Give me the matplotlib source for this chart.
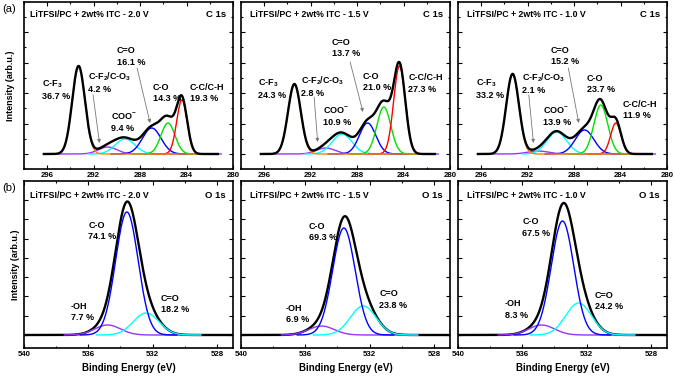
import numpy as np
import matplotlib
matplotlib.use("Agg")
from matplotlib import pyplot as plt
from matplotlib.ticker import MultipleLocator

plt.rcParams["font.family"] = "Liberation Sans"
plt.rcParams["font.weight"] = "bold"
plt.rcParams["axes.labelweight"] = "bold"
plt.rcParams["mathtext.fontset"] = "custom"
plt.rcParams["mathtext.rm"] = "Liberation Sans:bold"
plt.rcParams["mathtext.it"] = "Liberation Sans:bold"
plt.rcParams["mathtext.bf"] = "Liberation Sans:bold"
plt.rcParams["mathtext.default"] = "rm"

voltages = ["2.0", "1.5", "1.0"]

# C 1s components, order: C-F3, C-F2/C-O3, COO-, C=O, C-O, C-C/C-H
c1s_names = ["C-F$_3$", "C-F$_2$/C-O$_3$", "COO$^{-}$", "C=O", "C-O", "C-C/C-H"]

c1s_2v0_center = [293.3, 290.8, 289.3, 287.0, 285.6, 284.4]
c1s_2v0_height = [88, 7, 15, 26, 31, 54]
c1s_2v0_sigma = [0.55, 0.8, 0.85, 0.8, 0.6, 0.45]
c1s_2v0_pct = ["36.7", "4.2", "9.4", "16.1", "14.3", "19.3"]

c1s_1v5_center = [293.4, 290.7, 289.3, 287.1, 285.7, 284.35]
c1s_1v5_height = [70, 6, 20, 31, 47, 88]
c1s_1v5_sigma = [0.55, 0.8, 0.85, 0.7, 0.6, 0.5]
c1s_1v5_pct = ["24.3", "2.8", "10.9", "13.7", "21.0", "27.3"]

c1s_1v0_center = [293.3, 291.1, 289.5, 287.1, 285.7, 284.4]
c1s_1v0_height = [80, 3, 22, 24, 49, 31]
c1s_1v0_sigma = [0.55, 0.9, 0.85, 0.8, 0.6, 0.45]
c1s_1v0_pct = ["33.2", "2.1", "13.9", "15.2", "23.7", "11.9"]

# O 1s components, order: C-O, C=O, -OH
o1s_names = ["C-O", "C=O", "-OH"]

o1s_2v0_center = [533.6, 532.4, 534.8]
o1s_2v0_height = [123, 22, 10]
o1s_2v0_sigma = [0.7, 0.8, 0.8]
o1s_2v0_pct = ["74.1", "18.2", "7.7"]

o1s_1v5_center = [533.6, 532.4, 535.0]
o1s_1v5_height = [107, 29, 9]
o1s_1v5_sigma = [0.7, 0.8, 0.8]
o1s_1v5_pct = ["69.3", "23.8", "6.9"]

o1s_1v0_center = [533.5, 532.5, 534.8]
o1s_1v0_height = [114, 32, 10]
o1s_1v0_sigma = [0.7, 0.8, 0.8]
o1s_1v0_pct = ["67.5", "24.2", "8.3"]

c1s_sets = [
    (c1s_2v0_center, c1s_2v0_height, c1s_2v0_sigma, c1s_2v0_pct),
    (c1s_1v5_center, c1s_1v5_height, c1s_1v5_sigma, c1s_1v5_pct),
    (c1s_1v0_center, c1s_1v0_height, c1s_1v0_sigma, c1s_1v0_pct),
]
o1s_sets = [
    (o1s_2v0_center, o1s_2v0_height, o1s_2v0_sigma, o1s_2v0_pct),
    (o1s_1v5_center, o1s_1v5_height, o1s_1v5_sigma, o1s_1v5_pct),
    (o1s_1v0_center, o1s_1v0_height, o1s_1v0_sigma, o1s_1v0_pct),
]

# styles
c1s_colors = ["#ff8000", "#9933ff", "#00ffff", "#0000ff", "#00e000", "#ff0000"]
c1s_ranges = [(294.4, 282.6), (295.3, 281.0), (292.5, 286.0),
              (290.5, 283.5), (288.5, 282.5), (287.0, 282.0)]
c1s_order = [1, 2, 3, 4, 5, 0]
o1s_colors = ["#0000ff", "#00ffff", "#9933ff"]
o1s_ranges = [(536.5, 530.5), (535.5, 529.0), (537.5, 529.0)]

# label positions (BE, intensity) for each panel, same order as names
c1s_label_pos = [
    [(296.45, 64.5), (292.5, 71.5), (290.5, 32), (290.0, 97.5), (286.9, 61), (283.7, 61)],
    [(296.5, 65), (292.8, 68), (290.9, 38), (290.2, 106), (287.5, 72), (283.6, 70.5)],
    [(296.45, 65), (292.5, 71), (290.7, 38), (290.0, 98), (286.9, 70), (283.8, 44)],
]
c1s_arrows = [
    [((292.05, 59), (291.5, 11)), ((288.26, 86), (287.14, 31))],
    [((291.7, 57), (291.4, 12)), ((288.6, 92), (287.5, 42))],
    [((291.9, 59), (291.5, 11)), ((288.5, 86), (287.6, 31))],
]
o1s_label_pos = [
    [(536.0, 104), (531.5, 31), (537.1, 23)],
    [(535.8, 103), (531.4, 35.5), (537.2, 21)],
    [(536.0, 107.5), (531.5, 34), (537.1, 25.5)],
]


def gauss(x, c, h, s):
    return h * np.exp(-(x - c) ** 2 / (2 * s ** 2))


W, H = 674, 378
fig = plt.figure(figsize=(W / 100, H / 100), dpi=100)

col_left = [24, 241, 458]
col_w = 209
row_top = [2, 181]
row_h = 167


def make_ax(col, row):
    l = col_left[col]
    t = row_top[row]
    return fig.add_axes([l / W, 1 - (t + row_h) / H, col_w / W, row_h / H])


def style_ax(ax, xlim, ylim, ymaj, ymin):
    ax.set_xlim(*xlim)
    ax.set_ylim(*ylim)
    ax.xaxis.set_major_locator(MultipleLocator(4))
    ax.xaxis.set_minor_locator(MultipleLocator(2))
    ax.yaxis.set_major_locator(MultipleLocator(ymaj))
    if ymin:
        ax.yaxis.set_minor_locator(MultipleLocator(ymin))
    ax.tick_params(which="both", direction="in", top=True, right=True, width=0.8)
    ax.tick_params(which="major", length=3)
    ax.tick_params(which="minor", length=1.6)
    ax.tick_params(axis="x", labelsize=5.7, pad=2)
    ax.tick_params(axis="y", labelleft=False)
    for sp in ax.spines.values():
        sp.set_linewidth(1.2)


# top row: C 1s
for i, (cen, hei, sig, pct) in enumerate(c1s_sets):
    ax = make_ax(i, 0)
    x = np.linspace(298, 280, 1200)
    for k in c1s_order:
        lo, hi = c1s_ranges[k]
        xs = x[(x <= lo) & (x >= hi)]
        ax.plot(xs, gauss(xs, cen[k], hei[k], sig[k]), color=c1s_colors[k], lw=1.0)
    xe = x[(x <= 296.3) & (x >= 281.3)]
    total = sum(gauss(xe, cen[k], hei[k], sig[k]) for k in range(len(cen)))
    ax.plot(xe, total, color="black", lw=1.7)
    style_ax(ax, (298, 280), (-15, 152), 30.5, 15.25)
    ax.text(0.03 if i == 0 else 0.045, 0.928, f"LiTFSI/PC + 2wt% ITC - {voltages[i]} V",
            transform=ax.transAxes, va="center", ha="left", fontsize=6.3)
    ax.text(0.965, 0.928, "C 1s", transform=ax.transAxes, va="center", ha="right", fontsize=6.8)
    for k, (px, py) in enumerate(c1s_label_pos[i]):
        ax.text(px, py, f"{c1s_names[k]}\n{pct[k]} %", ha="left", va="center",
                fontsize=6.5, linespacing=1.35)
    for start, end in c1s_arrows[i]:
        ax.annotate("", xy=end, xytext=start,
                    arrowprops=dict(arrowstyle="-|>", color="#777777", lw=0.6,
                                    mutation_scale=5, shrinkA=0, shrinkB=0))
    if i == 0:
        ax.set_ylabel("Intensity (arb.u.)", fontsize=6.5, labelpad=3)

# bottom row: O 1s
for i, (cen, hei, sig, pct) in enumerate(o1s_sets):
    ax = make_ax(i, 1)
    x = np.linspace(540, 527, 1000)
    total = sum(gauss(x, cen[k], hei[k], sig[k]) for k in range(len(cen)))
    ax.plot(x, total, color="black", lw=1.7)
    for k in [2, 1, 0]:
        lo, hi = o1s_ranges[k]
        xs = x[(x <= lo) & (x >= hi)]
        ax.plot(xs, gauss(xs, cen[k], hei[k], sig[k]), color=o1s_colors[k], lw=1.0)
    style_ax(ax, (540, 527), (-13, 154), 19.3, None)
    ax.text(0.03 if i == 0 else 0.045, 0.916, f"LiTFSI/PC + 2wt% ITC - {voltages[i]} V",
            transform=ax.transAxes, va="center", ha="left", fontsize=6.3)
    ax.text(0.965, 0.916, "O 1s", transform=ax.transAxes, va="center", ha="right", fontsize=6.8)
    for k, (px, py) in enumerate(o1s_label_pos[i]):
        ax.text(px, py, f"{o1s_names[k]}\n{pct[k]} %", ha="left", va="center",
                fontsize=6.5, linespacing=1.35)
    ax.set_xlabel("Binding Energy (eV)", fontsize=7, labelpad=4)
    if i == 0:
        ax.set_ylabel("Intensity (arb.u.)", fontsize=6.5, labelpad=3)

fig.text(0.003, 0.975, "(a)", fontsize=8, fontweight="normal", va="center", ha="left")
fig.text(0.003, 0.503, "(b)", fontsize=8, fontweight="normal", va="center", ha="left")

fig.savefig("out.png", dpi=100)
